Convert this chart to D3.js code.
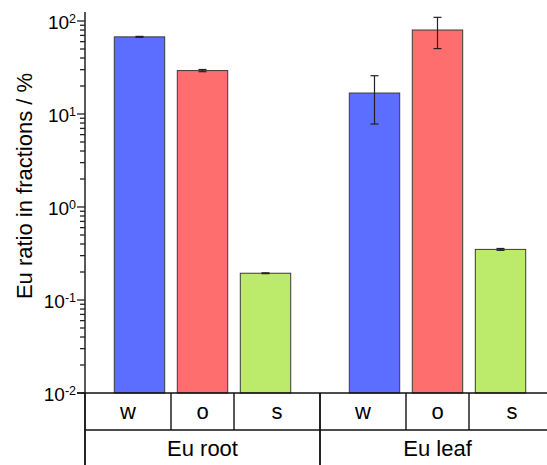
<!DOCTYPE html>
<html>
<head>
<meta charset="utf-8">
<script src="https://cdn.jsdelivr.net/npm/d3@7"></script>
<style>
  html, body { margin: 0; padding: 0; background: #fff; }
  svg { display: block; font-family: "Liberation Sans", Arial, sans-serif; }
</style>
</head>
<body>
<svg id="chart" width="547" height="465"></svg>
<script>
// ---- data ----
const groups = ["Eu root", "Eu leaf"];
const fractions = ["w", "o", "s"];
const rootValues = [67.5, 29.3, 0.194];
const rootErrors = [0.8, 0.8, 0.002];
const leafValues = [16.8, 80.0, 0.35];
const leafErrors = [9.0, 29.5, 0.008];
const tickExponents = [-2, -1, 0, 1, 2];
const colors = ["#5c6eff", "#ff6e6e", "#bceb6c"];

const seriesValues = [rootValues, leafValues];
const seriesErrors = [rootErrors, leafErrors];

// ---- layout ----
const svg = d3.select("#chart");
const axisX = 85;
const groupStride = 3.73;
const cellLeft = -0.865, cellRight = 2.865;
const barWidthU = 0.8;

const x = d3.scaleLinear().domain([cellLeft, cellRight]).range([axisX, 320]);
const y = d3.scaleLog().domain([0.01, 100]).range([393, 21]);
const yTop = 125;

const bars = [];
groups.forEach((g, gi) => {
  fractions.forEach((f, fi) => {
    bars.push({
      group: g, frac: f, fi,
      pos: gi * groupStride + fi,
      value: seriesValues[gi][fi],
      err: seriesErrors[gi][fi]
    });
  });
});

const bw = x(barWidthU) - x(0);

// bars
svg.append("g").selectAll("rect").data(bars).join("rect")
  .attr("x", d => x(d.pos) - bw / 2)
  .attr("y", d => y(d.value))
  .attr("width", bw)
  .attr("height", d => y(0.01) - y(d.value))
  .attr("fill", d => colors[d.fi])
  .attr("stroke", "#3a3a3a")
  .attr("stroke-width", 1);

// error bars
const eg = svg.append("g").attr("stroke", "#222").attr("stroke-width", 1.2);
bars.forEach(d => {
  const cx = x(d.pos);
  const yHi = y(d.value + d.err), yLo = y(d.value - d.err);
  eg.append("line").attr("x1", cx).attr("x2", cx).attr("y1", yHi).attr("y2", yLo);
  eg.append("line").attr("x1", cx - 4).attr("x2", cx + 4).attr("y1", yHi).attr("y2", yHi);
  eg.append("line").attr("x1", cx - 4).attr("x2", cx + 4).attr("y1", yLo).attr("y2", yLo);
});

// y axis (ticks drawn outward)
const majors = tickExponents.map(e => Math.pow(10, e));
const minors = [];
for (let e = -2; e < 2; e++) for (let m = 2; m <= 9; m++) minors.push(m * Math.pow(10, e));

const ax = svg.append("g").attr("stroke", "#222").attr("stroke-width", 1.3);
ax.selectAll("line.major").data(majors).join("line").attr("class", "major")
  .attr("x1", axisX - 8).attr("x2", axisX).attr("y1", d => y(d)).attr("y2", d => y(d));
ax.selectAll("line.minor").data(minors).join("line").attr("class", "minor")
  .attr("x1", axisX - 5).attr("x2", axisX).attr("y1", d => y(d)).attr("y2", d => y(d));

const tl = svg.append("g").selectAll("text").data(tickExponents).join("text")
  .attr("x", 76).attr("y", d => y(Math.pow(10, d)) + 7.5)
  .attr("text-anchor", "end").attr("font-size", 19).attr("fill", "#000");
tl.append("tspan").text("10");
tl.append("tspan").attr("font-size", 12.5).attr("dy", -6).text(d => d < 0 ? "-" + Math.abs(d) : d);

// axis line through table
svg.append("line").attr("x1", axisX).attr("x2", axisX).attr("y1", y(yTop)).attr("y2", 465)
  .attr("stroke", "#222").attr("stroke-width", 1.5);

// table lines
const row1Top = y(0.01), row2Top = 430, bottom = 465;
const tbl = svg.append("g").attr("stroke", "#111").attr("stroke-width", 1.4);
tbl.append("line").attr("x1", axisX - 8).attr("x2", 547).attr("y1", row1Top).attr("y2", row1Top);
tbl.append("line").attr("x1", axisX).attr("x2", 547).attr("y1", row2Top).attr("y2", row2Top);

const bounds = [cellLeft, 0.5, 1.5, cellRight];
groups.forEach((g, gi) => {
  const off = gi * groupStride;
  bounds.forEach((b, bi) => {
    const xx = x(off + b);
    const full = (bi === 0 || bi === 3);
    tbl.append("line").attr("x1", xx).attr("x2", xx)
      .attr("y1", row1Top).attr("y2", full ? bottom : row2Top);
  });
  fractions.forEach((f, fi) => {
    const cx = (x(off + bounds[fi]) + x(off + bounds[fi + 1])) / 2;
    svg.append("text").attr("x", cx).attr("y", 419).attr("text-anchor", "middle")
      .attr("font-size", 22).text(f);
  });
  svg.append("text").attr("x", x(off + 1)).attr("y", 456).attr("text-anchor", "middle")
    .attr("font-size", 22).text(g);
});

// y label
svg.append("text")
  .attr("transform", "translate(32,186) rotate(-90)")
  .attr("text-anchor", "middle").attr("font-size", 22)
  .text("Eu ratio in fractions / %");
</script>
</body>
</html>
